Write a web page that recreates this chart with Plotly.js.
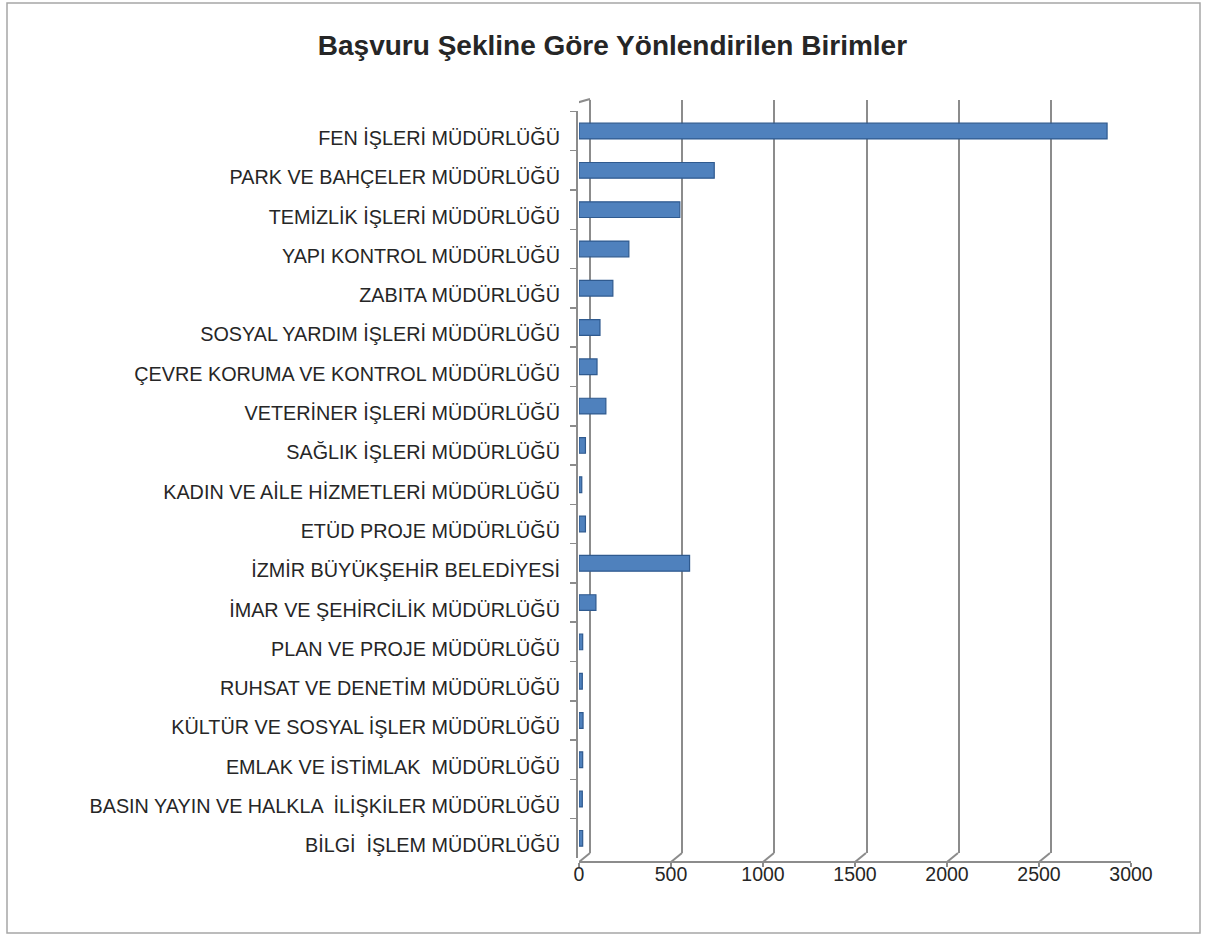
<!DOCTYPE html>
<html>
<head>
<meta charset="utf-8">
<script src="https://cdn.plot.ly/plotly-3.0.1.min.js"></script>
<style>html,body{margin:0;padding:0;background:#fff;}#chart{width:1208px;height:941px;}</style>
</head>
<body>
<div id="chart"></div>
<script>
const categories = [
  "FEN İŞLERİ MÜDÜRLÜĞÜ",
  "PARK VE BAHÇELER MÜDÜRLÜĞÜ",
  "TEMİZLİK İŞLERİ MÜDÜRLÜĞÜ",
  "YAPI KONTROL MÜDÜRLÜĞÜ",
  "ZABITA MÜDÜRLÜĞÜ",
  "SOSYAL YARDIM İŞLERİ MÜDÜRLÜĞÜ",
  "ÇEVRE KORUMA VE KONTROL MÜDÜRLÜĞÜ",
  "VETERİNER İŞLERİ MÜDÜRLÜĞÜ",
  "SAĞLIK İŞLERİ MÜDÜRLÜĞÜ",
  "KADIN VE AİLE HİZMETLERİ MÜDÜRLÜĞÜ",
  "ETÜD PROJE MÜDÜRLÜĞÜ",
  "İZMİR BÜYÜKŞEHİR BELEDİYESİ",
  "İMAR VE ŞEHİRCİLİK MÜDÜRLÜĞÜ",
  "PLAN VE PROJE MÜDÜRLÜĞÜ",
  "RUHSAT VE DENETİM MÜDÜRLÜĞÜ",
  "KÜLTÜR VE SOSYAL İŞLER MÜDÜRLÜĞÜ",
  "EMLAK VE İSTİMLAK  MÜDÜRLÜĞÜ",
  "BASIN YAYIN VE HALKLA  İLİŞKİLER MÜDÜRLÜĞÜ",
  "BİLGİ  İŞLEM MÜDÜRLÜĞÜ"
];
const values = [2870, 735, 548, 271, 184, 114, 98, 146, 35, 15, 35, 601, 92, 20, 18, 22, 20, 18, 20];
const xTickVals = [0, 500, 1000, 1500, 2000, 2500, 3000];
const xTickText = ["0", "500", "1000", "1500", "2000", "2500", "3000"];
const chartTitle = "Başvuru Şekline Göre Yönlendirilen Birimler";

const W = 1208, H = 941;
const px = v => v / W;
const py = v => (H - v) / H;
const GRAY = '#8c8c8c';
const FONT = 'Liberation Sans, Arial, sans-serif';
const floorY = 862;

const traces = [
  {type: 'scatter', x: [], y: [], xaxis: 'x', yaxis: 'y', showlegend: false, hoverinfo: 'skip'},
  {type: 'bar', orientation: 'h', x: values, y: categories, xaxis: 'x2', yaxis: 'y2',
   width: 0.4,
   marker: {color: '#4f81bd', line: {color: '#2f5a8f', width: 1.2}},
   showlegend: false}
];

const shapes = [
  {type: 'rect', xref: 'paper', yref: 'paper', x0: px(7), x1: px(1200), y0: py(3), y1: py(933),
   line: {color: '#a6a6a6', width: 1.5}, fillcolor: 'rgba(0,0,0,0)', layer: 'below'}
];
xTickVals.forEach(v => {
  shapes.push({type: 'line', xref: 'x2', xsizemode: 'pixel', xanchor: v, x0: 0, x1: 11,
    yref: 'paper', ysizemode: 'pixel', yanchor: py(floorY), y0: 0, y1: 9,
    line: {color: GRAY, width: 2}});
});
shapes.push({type: 'line', xref: 'x2', xsizemode: 'pixel', xanchor: 0, x0: -3, x1: 11,
  yref: 'paper', ysizemode: 'pixel', yanchor: py(103), y0: 0, y1: 4,
  line: {color: GRAY, width: 2}});

const layout = {
  width: W, height: H,
  margin: {l: 0, r: 0, t: 0, b: 0},
  paper_bgcolor: '#ffffff',
  plot_bgcolor: 'rgba(0,0,0,0)',
  showlegend: false,
  title: {text: '<b>' + chartTitle + '</b>', x: 0.507, xanchor: 'center', xref: 'paper',
          y: py(45), yanchor: 'middle', yref: 'paper',
          font: {family: FONT, size: 28, color: '#262626'}},
  xaxis: {domain: [px(590), px(1143)], range: [0, 3000], tickvals: xTickVals,
          showgrid: true, gridcolor: GRAY, gridwidth: 2,
          zeroline: true, zerolinecolor: GRAY, zerolinewidth: 2,
          showticklabels: false, ticks: '', showline: false, anchor: 'y', fixedrange: true},
  yaxis: {domain: [py(853), py(100)], range: [0, 1], visible: false, fixedrange: true, anchor: 'x'},
  xaxis2: {domain: [px(579), px(1131)], range: [0, 3000], tickvals: xTickVals, ticktext: xTickText,
           anchor: 'free', position: py(floorY), showgrid: false, zeroline: false,
           showline: true, linecolor: GRAY, linewidth: 2,
           ticks: 'outside', ticklen: 4, tickcolor: GRAY, tickwidth: 1.5,
           ticklabelstandoff: -9,
           tickfont: {family: FONT, size: 19.5, color: '#262626'}, fixedrange: true},
  yaxis2: {type: 'category', categoryorder: 'array', categoryarray: categories, autorange: 'reversed',
           domain: [py(858), py(111.4)], anchor: 'free', position: px(577),
           showgrid: false, zeroline: false, showline: true, linecolor: GRAY, linewidth: 2,
           ticks: 'outside', tickson: 'boundaries', ticklen: 6, tickcolor: GRAY, tickwidth: 1.5,
           ticklabelstandoff: 12, ticklabelshift: -7,
           tickfont: {family: FONT, size: 19.8, color: '#262626'}, fixedrange: true},
  shapes: shapes,
  bargap: 0.6
};

Plotly.newPlot('chart', traces, layout, {displayModeBar: false, staticPlot: true});
</script>
</body>
</html>
